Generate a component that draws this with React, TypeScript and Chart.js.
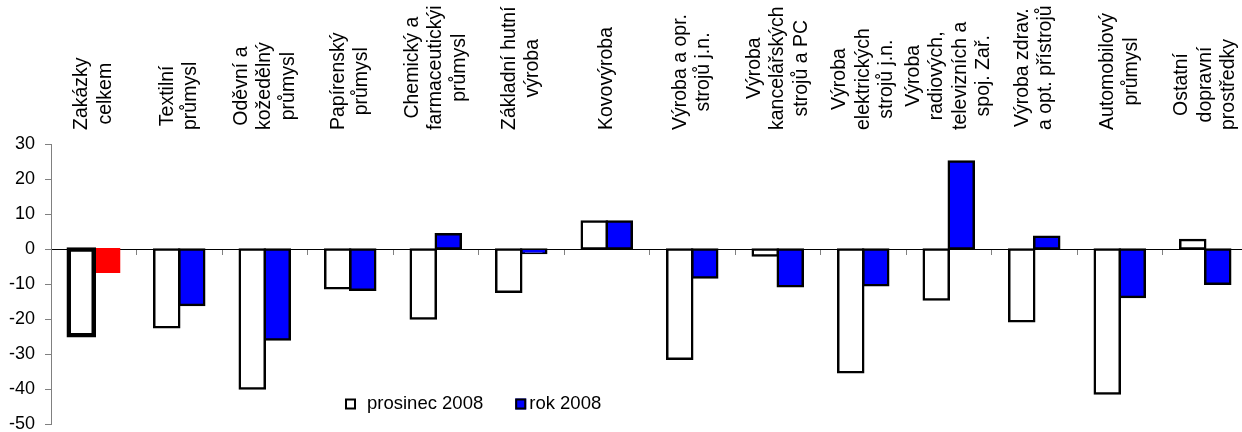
import React, { useEffect, useRef } from "react";
import { Chart, registerables } from "chart.js";

Chart.register(...registerables);

const categories: string[][] = [
  ["Zakázky", "celkem"],
  ["Textilní", "průmysl"],
  ["Oděvní a", "kožedělný", "průmysl"],
  ["Papírenský", "průmysl"],
  ["Chemický a", "farmaceutickýi", "průmysl"],
  ["Základní hutní", "výroba"],
  ["Kovovýroba"],
  ["Výroba a opr.", "strojů j.n."],
  ["Výroba", "kancelářských", "strojů a PC"],
  ["Výroba", "elektrických", "strojů j.n."],
  ["Výroba", "radiových,", "televizních a", "spoj. Zař."],
  ["Výroba zdrav.", "a opt. přístrojů"],
  ["Automobilový", "průmysl"],
  ["Ostatní", "dopravní", "prostředky"],
];

const prosinec2008 = [-24.6, -22.3, -39.8, -11.2, -19.8, -12.2, 7.9, -31.3, -1.8, -35.2, -14.4, -20.6, -41.2, 2.6];
const rok2008 = [-6.4, -16.0, -25.8, -11.6, 4.2, -1.1, 7.9, -8.1, -10.6, -10.3, 25.0, 3.5, -13.7, -9.9];

const yMin = -50;
const yMax = 30;
const yStep = 10;

const legendLabels = ["prosinec 2008", "rok 2008"];

const FONT = "'Liberation Sans', Arial, Helvetica, sans-serif";

const categoryLabelPlugin = {
  id: "categoryLabels",
  afterDraw(chart: any) {
    const ctx = chart.ctx;
    const xs = chart.scales.x;
    ctx.save();
    ctx.font = `19.5px ${FONT}`;
    ctx.fillStyle = "#000";
    const lh = 23.5;
    const bottom = 130;
    categories.forEach((lines, i) => {
      const px = xs.getPixelForValue(i);
      const L = Math.max(...lines.map((l) => ctx.measureText(l).width));
      ctx.save();
      ctx.translate(px, bottom);
      ctx.rotate(-Math.PI / 2);
      ctx.textAlign = "center";
      ctx.textBaseline = "middle";
      lines.forEach((l, j) => {
        ctx.fillText(l, L / 2, (j - (lines.length - 1) / 2) * lh);
      });
      ctx.restore();
    });
    ctx.restore();
  },
};

const legendPlugin = {
  id: "customLegend",
  afterDraw(chart: any) {
    const ctx = chart.ctx;
    ctx.save();
    ctx.font = `18.5px ${FONT}`;
    ctx.textBaseline = "middle";
    ctx.textAlign = "left";
    const cy = 404;
    let x = 345;
    const box = 11;
    ctx.fillStyle = "#FFFFFF";
    ctx.fillRect(x, cy - box / 2, box, box);
    ctx.strokeStyle = "#000";
    ctx.lineWidth = 2;
    ctx.strokeRect(x + 1, cy - box / 2 + 1, box - 2, box - 2);
    ctx.fillStyle = "#000";
    ctx.fillText(legendLabels[0], x + 22, cy);
    x = x + 22 + ctx.measureText(legendLabels[0]).width + 32;
    ctx.fillStyle = "#0000FF";
    ctx.fillRect(x, cy - box / 2, box, box);
    ctx.strokeRect(x + 1, cy - box / 2 + 1, box - 2, box - 2);
    ctx.fillStyle = "#000";
    ctx.fillText(legendLabels[1], x + 14, cy);
    ctx.restore();
  },
};

export default function App() {
  const ref = useRef<HTMLCanvasElement | null>(null);

  useEffect(() => {
    document.body.style.margin = "0";
    document.body.style.overflow = "hidden";
    if (!ref.current) return;
    const chart = new Chart(ref.current, {
      type: "bar",
      data: {
        labels: categories.map((l) => l.join(" ")),
        datasets: [
          {
            label: legendLabels[0],
            data: prosinec2008,
            backgroundColor: "#FFFFFF",
            borderColor: "#000000",
            borderWidth: prosinec2008.map((_, i) => (i === 0 ? 4.5 : 2.5)),
            inflateAmount: prosinec2008.map((_, i) => (i === 0 ? 2.25 : 1.25)),
            borderSkipped: false,
            categoryPercentage: 0.585,
            barPercentage: 1,
          } as any,
          {
            label: legendLabels[1],
            data: rok2008,
            backgroundColor: rok2008.map((_, i) => (i === 0 ? "#FF0000" : "#0000FF")),
            borderColor: "#000000",
            borderWidth: rok2008.map((_, i) => (i === 0 ? 0 : 2.5)),
            inflateAmount: rok2008.map((_, i) => (i === 0 ? 1.5 : 1.25)),
            borderSkipped: false,
            categoryPercentage: 0.585,
            barPercentage: 1,
          } as any,
        ],
      },
      options: {
        animation: false,
        responsive: false,
        layout: { padding: { top: 144, bottom: 20, left: 0, right: 0 } },
        plugins: {
          legend: { display: false },
          tooltip: { enabled: false },
        },
        scales: {
          x: {
            type: "category",
            position: { y: 0 } as any,
            offset: true,
            grid: {
              offset: true,
              drawOnChartArea: false,
              drawTicks: true,
              tickLength: 5,
              color: "#808080",
            },
            border: { display: true, color: "#000000", width: 1 },
            ticks: { display: false },
          },
          y: {
            min: yMin,
            max: yMax,
            position: "left",
            afterFit: (scale: any) => {
              scale.width = 51;
            },
            grid: {
              drawOnChartArea: false,
              drawTicks: true,
              tickLength: 6,
              color: "#808080",
            },
            border: { display: true, color: "#808080", width: 1 },
            ticks: {
              stepSize: yStep,
              color: "#000",
              padding: 10,
              font: { family: FONT, size: 18 },
            },
          },
        },
      },
      plugins: [categoryLabelPlugin, legendPlugin],
    });
    return () => chart.destroy();
  }, []);

  return (
    <div style={{ width: 1248, height: 445, overflow: "hidden" }}>
      <canvas ref={ref} width={1248} height={445} style={{ display: "block" }} />
    </div>
  );
}
